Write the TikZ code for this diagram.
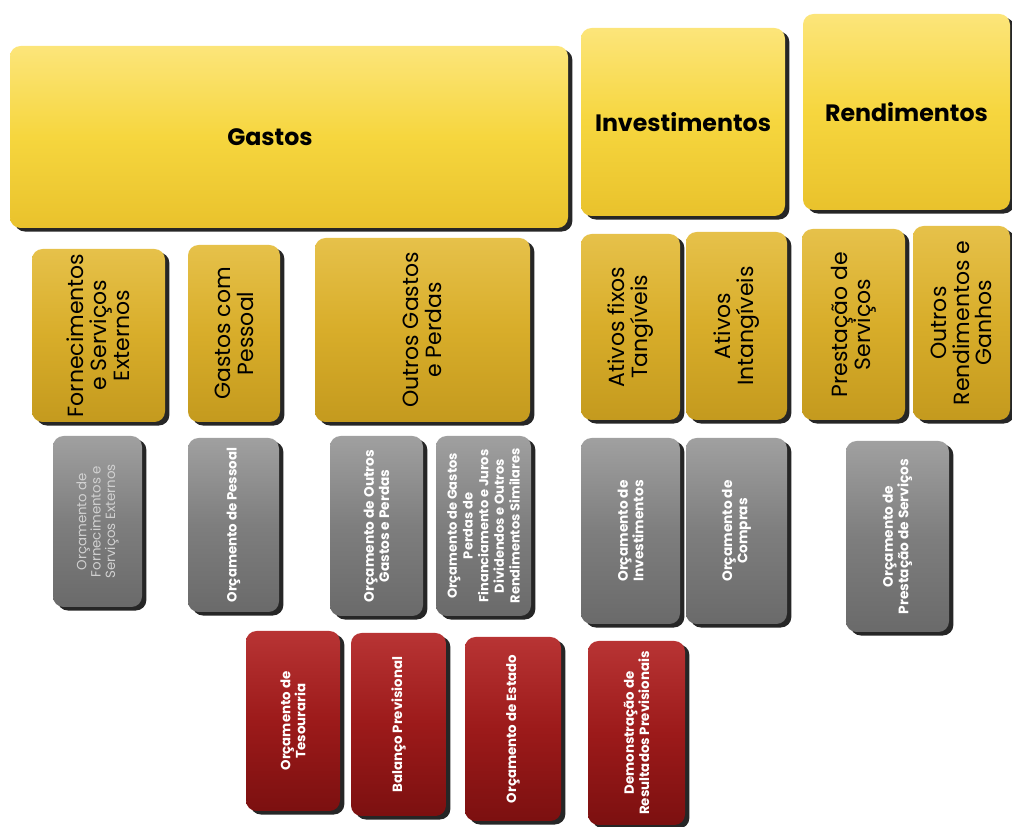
\documentclass[tikz,border=0pt]{standalone}
\usepackage{fontspec}
\setmainfont{Poppins}
\usetikzlibrary{shadows,fit}

\definecolor{amarelo}{HTML}{F6D63E}
\definecolor{amareloclaro}{HTML}{FCE57A}
\definecolor{amareloescuro}{HTML}{E9C22C}
\definecolor{ouro}{HTML}{D8AD2A}
\definecolor{ouroclaro}{HTML}{E6C14A}
\definecolor{ouroescuro}{HTML}{C49A1E}
\definecolor{cinza}{HTML}{7E7E7E}
\definecolor{cinzaclaro}{HTML}{A0A0A0}
\definecolor{cinzaescuro}{HTML}{6A6A6A}
\definecolor{vermelho}{HTML}{9C1A1A}
\definecolor{vermelhoclaro}{HTML}{B83434}
\definecolor{vermelhoescuro}{HTML}{7C1010}

\tikzset{
  caixa/.style={rounded corners=6pt, inner sep=0pt,
    drop shadow={shadow xshift=2.5pt, shadow yshift=-2pt, opacity=0.85, fill=black}},
  topo/.style={caixa, top color=amareloclaro, bottom color=amareloescuro, middle color=amarelo},
  dourada/.style={caixa, top color=ouroclaro, bottom color=ouroescuro, middle color=ouro},
  cinzenta/.style={caixa, top color=cinzaclaro, bottom color=cinzaescuro, middle color=cinza},
  vermelha/.style={caixa, top color=vermelhoclaro, bottom color=vermelhoescuro, middle color=vermelho},
  titulo/.style={font=\fontsize{13.5}{15}\selectfont\bfseries},
  vtexto/.style={rotate=90, align=center, font=\fontsize{12.5}{13}\selectfont},
  vcinza/.style={rotate=90, align=center, text=white, font=\fontsize{7.8}{8.8}\selectfont\bfseries},
  vverm/.style={rotate=90, align=center, text=white, font=\fontsize{7.6}{8.6}\selectfont\bfseries}
}

\begin{document}
\begin{tikzpicture}[x=0.02cm, y=-0.02cm]
    \useasboundingbox (0,0) rectangle (1012,827);

    % Top row
    \node[topo, fit={(10,46) (568,228)}] (gastos) {};
    \node[topo, fit={(581,28) (785,216)}] (invest) {};
    \node[topo, fit={(803,14) (1010,210)}] (rend) {};

    \node[titulo] (gastos-txt) at (270,137) {Gastos};
    \node[titulo] (invest-txt) at (invest) {Investimentos};
    \node[titulo] (rend-txt) at (rend) {Rendimentos};

    % Second row
    \foreach \nome/\xa/\ya/\xb/\yb in {fse/32/249/165/422, gp/188/245/280/422,
        ogp/315/238/530/422, aft/581/234/680/420, ai/686/232/787/420,
        ps/802/229/905/420, org/913/226/1010/420}
        \node[dourada, fit={(\xa,\ya) (\xb,\yb)}] (\nome) {};

    \node[vtexto] (fse-txt) at (fse) {Fornecimentos\\e Serviços\\Externos};
    \node[vtexto] (gp-txt) at (gp) {Gastos com\\Pessoal};
    \node[vtexto] (ogp-txt) at (ogp) {Outros Gastos\\e Perdas};
    \node[vtexto] (aft-txt) at (aft) {Ativos fixos\\Tangíveis};
    \node[vtexto] (ai-txt) at (ai) {Ativos\\Intangíveis};
    \node[vtexto] (ps-txt) at (ps) {Prestação de\\Serviços};
    \node[vtexto] (org-txt) at (org) {Outros\\Rendimentos e\\Ganhos};

    % Third row
    \foreach \nome/\xa/\ya/\xb/\yb in {ofse/53/436/142/607, opes/188/438/279/612,
        oogp/330/436/423/616, ogpf/436/436/531/616, oinv/581/438/680/624,
        ocomp/686/438/787/624, oprest/846/441/949/632}
        \node[cinzenta, fit={(\xa,\ya) (\xb,\yb)}] (\nome) {};

    \node[rotate=90, align=center, text=black!18, font=\fontsize{7.6}{8.2}\selectfont]
        (ofse-txt) at (ofse) {Orçamento de\\Fornecimentos e\\Serviços Externos};
    \node[vcinza, font=\fontsize{7.6}{8.6}\selectfont\bfseries] (opes-txt) at (opes) {Orçamento de Pessoal};
    \node[vcinza] (oogp-txt) at (oogp) {Orçamento de Outros\\Gastos e Perdas};
    \node[vcinza, font=\fontsize{7.4}{8.9}\selectfont\bfseries] (ogpf-txt) at (ogpf)
        {Orçamento de Gastos\\Perdas de\\Financiamento e Juros\\Dividendos e Outros\\Rendimentos Similares};
    \node[vcinza] (oinv-txt) at (oinv) {Orçamento de\\Investimentos};
    \node[vcinza] (ocomp-txt) at (ocomp) {Orçamento de\\Compras};
    \node[vcinza] (oprest-txt) at (oprest) {Orçamento de\\Prestação de Serviços};

    % Bottom row
    \foreach \nome/\xa/\ya/\xb/\yb in {otes/246/631/340/811, bal/351/633/446/816,
        oest/465/637/561/821, drp/588/641/685/825}
        \node[vermelha, fit={(\xa,\ya) (\xb,\yb)}] (\nome) {};

    \node[vverm] (otes-txt) at (otes) {Orçamento de\\Tesouraria};
    \node[vverm] (bal-txt) at (bal) {Balanço Previsional};
    \node[vverm] (oest-txt) at (oest) {Orçamento de Estado};
    \node[vverm] (drp-txt) at (drp) {Demonstração de\\Resultados Previsionais};
\end{tikzpicture}
\end{document}
